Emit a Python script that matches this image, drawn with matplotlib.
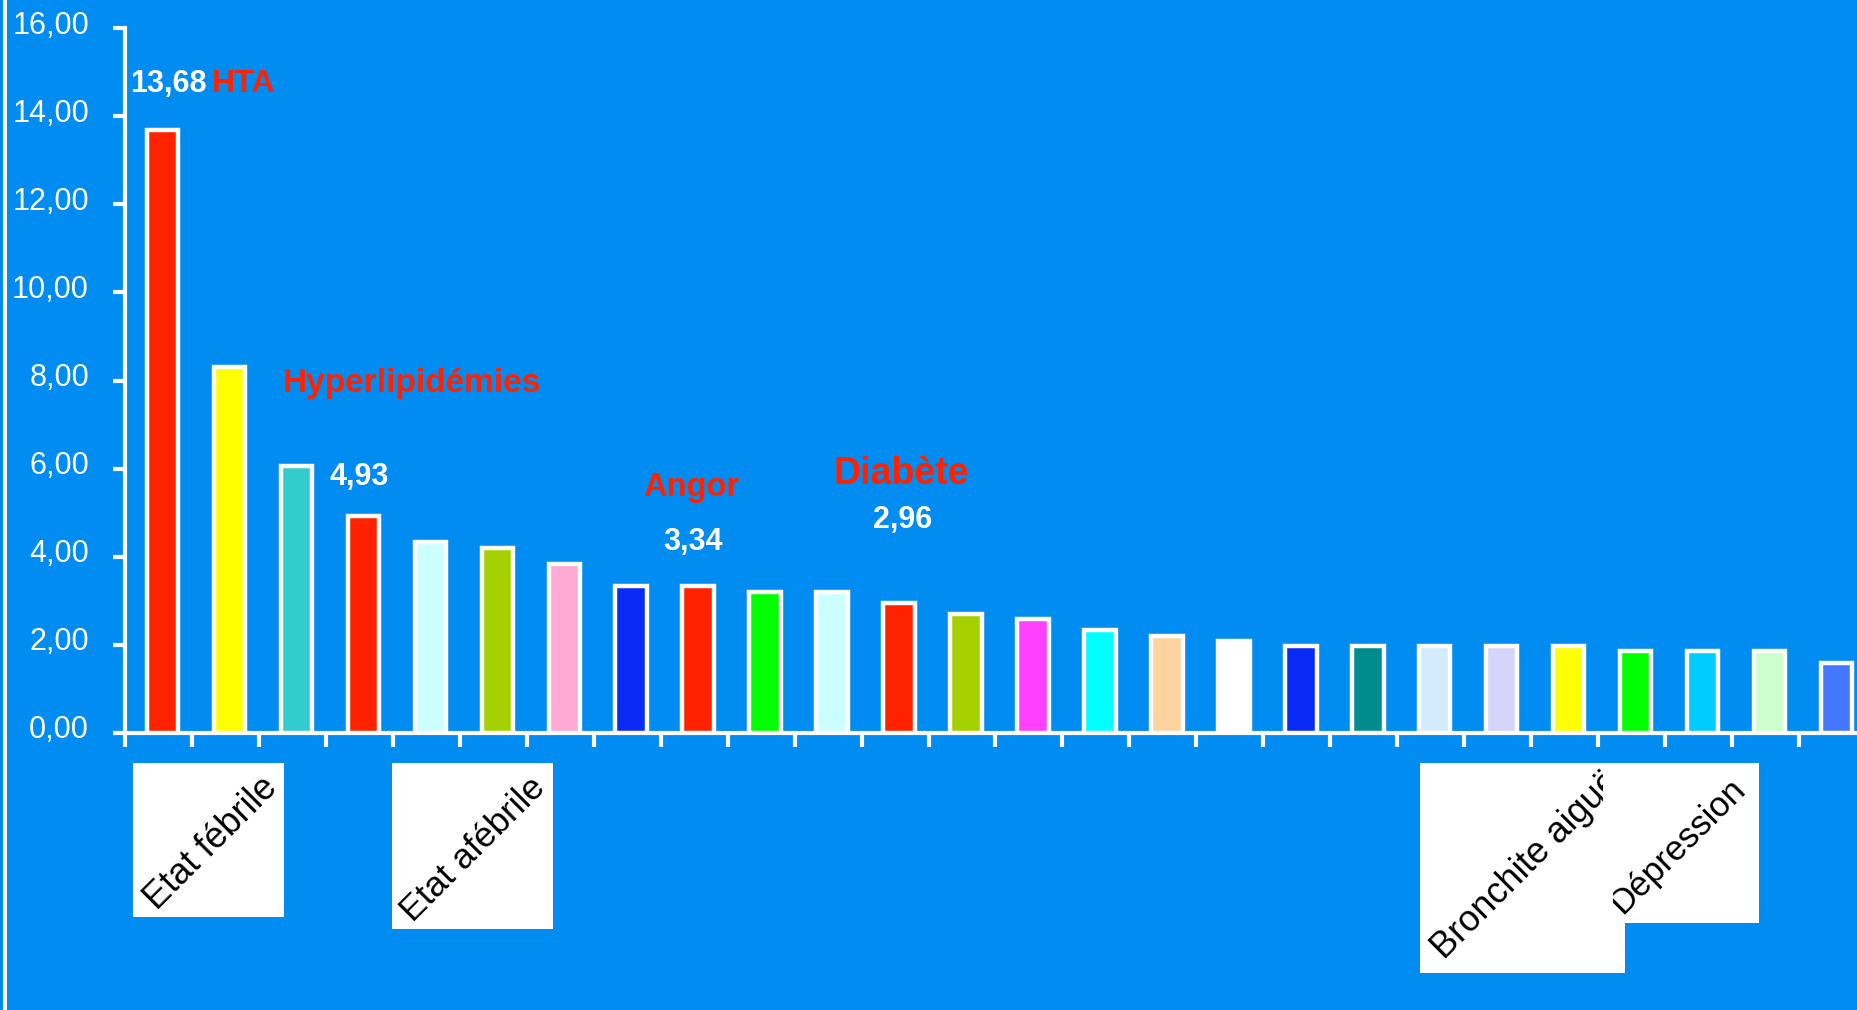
import numpy as np
import matplotlib.pyplot as plt
from matplotlib.patches import Rectangle
from matplotlib.transforms import ScaledTranslation

W, H = 1858, 1010
BG = '#008CF0'
RED = '#FF2200'

# bar heights, left to right (26 diagnoses, sorted)
values = [13.68, 8.31, 6.06, 4.93, 4.33, 4.19, 3.83, 3.34, 3.34, 3.21, 3.21, 2.96, 2.70,
          2.59, 2.33, 2.21, 2.08, 1.98, 1.98, 1.98, 1.98, 1.98, 1.85, 1.85, 1.85, 1.60]
bar_colors = ['#FF2200', '#FFFF00', '#33CCCC', '#FF2200', '#CCFFFF', '#A5D100', '#FFAAD4',
              '#0A2AF5', '#FF2200', '#00FF00', '#CCFFFF', '#FF2200', '#A5D100', '#FF40FF',
              '#00FFFF', '#FFD3A0', '#FFFFFF', '#0A2AF5', '#008C8C', '#D2EBFF', '#D5D5FA',
              '#FFFF00', '#00FF00', '#00CCFF', '#CCFFCC', '#4477FF']
yticks = [0, 2, 4, 6, 8, 10, 12, 14, 16]
ytick_labels = [f"{v:.2f}".replace(".", ",") for v in yticks]

disease_names = ["HTA", "Hyperlipidémies", "Angor", "Diabète"]
value_labels = ["13,68", "4,93", "3,34", "2,96"]
box_labels = ["Etat fébrile", "Etat afébrile", "Bronchite aiguë", "Dépression"]

plt.rcParams['font.family'] = ['Liberation Sans', 'DejaVu Sans']

fig = plt.figure(figsize=(W / 100, H / 100), dpi=100, facecolor=BG)


def fx(x):
    return x / W


def fy(y):
    return 1 - y / H


def px_rect(x0, y0, x1, y1, **kw):
    # rectangle given in image pixels (y down), placed in figure coords
    return Rectangle((fx(x0), fy(y1)), (x1 - x0) / W, (y1 - y0) / H,
                     transform=fig.transFigure, **kw)


# axes: y axis at x=125px, zero at y=733px, 16 at y=28px, 66.96px per category
ax = fig.add_axes([fx(125), fy(733), 26 * 66.96 / W, (733 - 28) / H])
ax.set_facecolor(BG)

n = len(values)
x = np.arange(n) + 0.06
ax.bar(x, values, width=0.47, color=bar_colors, edgecolor='white', linewidth=3.2, zorder=3)

ax.set_xlim(-0.5, n - 0.5)
ax.set_ylim(0, 16)

for s in ['top', 'right']:
    ax.spines[s].set_visible(False)
for s in ['left', 'bottom']:
    ax.spines[s].set_color('white')
    ax.spines[s].set_linewidth(3)

ax.set_yticks(yticks)
ax.set_yticklabels(ytick_labels)
ax.set_xticks(np.arange(n + 1) - 0.5)
ax.set_xticklabels([])
ax.tick_params(axis='y', colors='white', length=9, width=3, pad=17, labelsize=22)
ax.tick_params(axis='x', colors='white', length=10, width=3)
for lab in ax.get_yticklabels():
    lab.set_transform(lab.get_transform() + ScaledTranslation(0, 0.06, fig.dpi_scale_trans))

# annotations on the bars
ax.text(-0.425, 14.55, value_labels[0], color='white', fontsize=22, fontweight='bold',
        ha='left', va='baseline')
ax.text(0.80, 14.55, disease_names[0], color=RED, fontsize=23, fontweight='bold',
        ha='left', va='baseline')
ax.text(1.86, 7.74, disease_names[1], color=RED, fontsize=24, fontweight='bold',
        ha='left', va='baseline')
ax.text(2.55, 5.63, value_labels[1], color='white', fontsize=22, fontweight='bold',
        ha='left', va='baseline')
ax.text(7.95, 5.38, disease_names[2], color=RED, fontsize=23.5, fontweight='bold',
        ha='center', va='baseline')
ax.text(7.99, 4.15, value_labels[2], color='white', fontsize=22, fontweight='bold',
        ha='center', va='baseline')
ax.text(11.10, 5.65, disease_names[3], color=RED, fontsize=27, fontweight='bold',
        ha='center', va='baseline')
ax.text(11.12, 4.65, value_labels[3], color='white', fontsize=22, fontweight='bold',
        ha='center', va='baseline')

# white label boxes under the axis (x0, y0, x1, y1 in px), text clip areas and text centres
boxes = [(133, 763, 284, 917), (392, 763, 553, 929), (1420, 763, 1625, 973), (1625, 763, 1759, 923)]
clips = [(133, 763, 284, 917), (392, 763, 553, 929), (1420, 763, 1603, 973), (1613, 763, 1759, 923)]
centres = [(211.5, 843), (473.5, 849), (1526, 865), (1678, 846)]
sizes = [26, 25.5, 26, 25]
for i in range(len(box_labels)):
    fig.add_artist(px_rect(*boxes[i], facecolor='white', edgecolor='none', zorder=1))
    clip = px_rect(*clips[i], facecolor='none', edgecolor='none')
    fig.add_artist(clip)
    c = centres[i]
    t = fig.text(fx(c[0]), fy(c[1]), box_labels[i], rotation=45, rotation_mode='anchor',
                 ha='center', va='center', color='black', fontsize=sizes[i], zorder=2)
    t.set_clip_path(clip)

# white border line at the left edge
fig.add_artist(Rectangle((fx(3), 0), 4 / W, 1, transform=fig.transFigure,
                         facecolor='white', edgecolor='none'))

fig.savefig('out.png', dpi=100, facecolor=BG)
